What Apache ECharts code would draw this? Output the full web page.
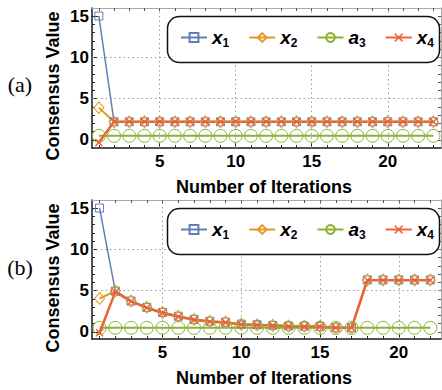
<!DOCTYPE html>
<html><head><meta charset="utf-8">
<script src="https://cdn.jsdelivr.net/npm/echarts@6/dist/echarts.min.js"></script>
<style>html,body{margin:0;padding:0;background:#fff}#c{width:442px;height:390px}</style>
</head><body><div id="c"></div>
<script>
// ---------- data ----------
const seriesNames = ['x1', 'x2', 'a3', 'x4'];
const iterA = [1,2,3,4,5,6,7,8,9,10,11,12,13,14,15,16,17,18,19,20,21,22,23];
const x1A = [15,2.2,2.2,2.2,2.2,2.2,2.2,2.2,2.2,2.2,2.2,2.2,2.2,2.2,2.2,2.2,2.2,2.2,2.2,2.2,2.2,2.2,2.2];
const x2A = [3.9,2.2,2.2,2.2,2.2,2.2,2.2,2.2,2.2,2.2,2.2,2.2,2.2,2.2,2.2,2.2,2.2,2.2,2.2,2.2,2.2,2.2,2.2];
const a3A = [0.5,0.5,0.5,0.5,0.5,0.5,0.5,0.5,0.5,0.5,0.5,0.5,0.5,0.5,0.5,0.5,0.5,0.5,0.5,0.5,0.5,0.5,0.5];
const x4A = [-0.3,2.2,2.2,2.2,2.2,2.2,2.2,2.2,2.2,2.2,2.2,2.2,2.2,2.2,2.2,2.2,2.2,2.2,2.2,2.2,2.2,2.2,2.2];

const iterB = [1,2,3,4,5,6,7,8,9,10,11,12,13,14,15,16,17,18,19,20,21,22];
const x1B = [15,4.95,3.75,2.98,2.37,1.9,1.52,1.3,1.2,0.95,0.88,0.8,0.72,0.7,0.65,0.52,0.52,6.3,6.3,6.3,6.3,6.3];
const x2B = [4.05,4.95,3.75,2.98,2.37,1.9,1.52,1.3,1.2,0.95,0.88,0.8,0.72,0.7,0.65,0.52,0.52,6.3,6.3,6.3,6.3,6.3];
const a3B = [0.5,0.5,0.5,0.5,0.5,0.5,0.5,0.5,0.5,0.5,0.5,0.5,0.5,0.5,0.5,0.5,0.5,0.5,0.5,0.5,0.5,0.5];
const x4B = [-0.1,4.85,3.7,2.92,2.3,1.85,1.48,1.25,1.15,0.9,0.85,0.78,0.7,0.67,0.62,0.5,0.5,6.25,6.25,6.25,6.25,6.25];

const xMajorTicks = [5, 10, 15, 20];
const yMajorTicks = [0, 5, 10, 15];
const yMinorTicks = [0,1,2,3,4,5,6,7,8,9,10,11,12,13,14,15];
const xGridLines = [5, 10, 15, 20];
const yGridLines = [5, 10];
const panelLabels = ['(a)', '(b)'];
const xTitle = 'Number of Iterations';
const yTitle = 'Consensus Value';

// ---------- styling ----------
const font = '"Liberation Sans", Arial, sans-serif';
const colors = { x1: '#5E81B5', x2: '#E19C24', a3: '#8FB032', x4: '#EB6235' };
const crossPath = 'path://M0,1.2L1.2,0L5,3.8L8.8,0L10,1.2L6.2,5L10,8.8L8.8,10L5,6.2L1.2,10L0,8.8L3.8,5Z';
const symbolCfg = {
  x1: { symbol: 'rect', symbolSize: 8, lw: 1.5, hollow: true },
  x2: { symbol: 'diamond', symbolSize: [10, 12], lw: 2, hollow: true },
  a3: { symbol: 'circle', symbolSize: 13, lw: 2, hollow: true },
  x4: { symbol: crossPath, symbolSize: 8, lw: 2.5, hollow: false }
};

const panels = [
  { top: 8, height: 140, xMin: 0.55, xMax: 23.5, yMin: -0.97, yMax: 15.97, iters: iterA,
    vals: { x1: x1A, x2: x2A, a3: a3A, x4: x4A } },
  { top: 200, height: 139, xMin: 0.52, xMax: 22.68, yMin: -0.85, yMax: 15.97, iters: iterB,
    vals: { x1: x1B, x2: x2B, a3: a3B, x4: x4B } }
];

const grid = [], xAxis = [], yAxis = [], series = [], legend = [], graphic = [];
const tickCol = '#2a2a2a';

panels.forEach((p, gi) => {
  grid.push({ left: 92, top: p.top, width: 349, height: p.height });
  const xMinor = p.iters.slice();
  const base = { gridIndex: gi, type: 'value', min: p.xMin, max: p.xMax, splitLine: { show: false } };
  xAxis.push(Object.assign({}, base, { position: 'bottom',
    axisLine: { onZero: false, lineStyle: { color: '#1a1a1a', width: 1.5 } },
    axisTick: { inside: true, length: 3, customValues: xMinor, lineStyle: { color: tickCol } },
    axisLabel: { show: false } }));
  xAxis.push(Object.assign({}, base, { position: 'bottom',
    axisLine: { show: false, onZero: false },
    axisTick: { inside: true, length: 6, customValues: xMajorTicks, lineStyle: { color: tickCol } },
    axisLabel: { customValues: xMajorTicks, fontSize: 17, fontWeight: 'bold', color: '#000', fontFamily: font, margin: 5 } }));
  xAxis.push(Object.assign({}, base, { position: 'top',
    axisLine: { onZero: false, lineStyle: { color: '#aaa', width: 1 } },
    axisTick: { inside: true, length: 3, customValues: xMinor, lineStyle: { color: '#555' } },
    axisLabel: { show: false } }));

  const ybase = { gridIndex: gi, type: 'value', min: p.yMin, max: p.yMax, splitLine: { show: false } };
  yAxis.push(Object.assign({}, ybase, { position: 'left',
    axisLine: { onZero: false, lineStyle: { color: '#1a1a1a', width: 1.5 } },
    axisTick: { inside: true, length: 3, customValues: yMinorTicks, lineStyle: { color: tickCol } },
    axisLabel: { show: false } }));
  yAxis.push(Object.assign({}, ybase, { position: 'left',
    axisLine: { show: false, onZero: false },
    axisTick: { inside: true, length: 6, customValues: yMajorTicks, lineStyle: { color: tickCol } },
    axisLabel: { customValues: yMajorTicks, fontSize: 17, fontWeight: 'bold', color: '#000', fontFamily: font, margin: 3 } }));
  yAxis.push(Object.assign({}, ybase, { position: 'right',
    axisLine: { onZero: false, lineStyle: { color: '#aaa', width: 1 } },
    axisTick: { inside: true, length: 3, customValues: yMinorTicks, lineStyle: { color: '#555' } },
    axisLabel: { show: false } }));

  const xi = gi * 3, yi = gi * 3;
  // grid lines (dotted) through markLine on a hidden carrier series
  series.push({
    type: 'line', name: 'grid' + gi, xAxisIndex: xi, yAxisIndex: yi, z: 1,
    data: p.iters.map((x, i) => [x, p.vals.a3[i]]),
    showSymbol: false, symbol: 'none', silent: true, lineStyle: { opacity: 0, width: 0 },
    markLine: { silent: true, symbol: 'none', z: 1, label: { show: false },
      lineStyle: { color: '#9a9a9a', type: [1.5, 3], width: 1 },
      data: xGridLines.map(v => ({ xAxis: v })).concat(yGridLines.map(v => ({ yAxis: v }))) }
  });
  seriesNames.forEach((nm) => {
    const c = symbolCfg[nm];
    series.push({
      type: 'line', name: nm, xAxisIndex: xi, yAxisIndex: yi, z: 2,
      data: p.iters.map((x, i) => [x, p.vals[nm][i]]),
      symbol: c.symbol, symbolSize: c.symbolSize, showAllSymbol: true,
      lineStyle: { color: colors[nm], width: c.lw },
      itemStyle: c.hollow ? { color: 'rgba(255,255,255,0)', borderColor: colors[nm], borderWidth: 1 }
                          : { color: colors[nm], borderWidth: 0 },
      emphasis: { disabled: true }
    });
  });

  const boxTop = p.top + 8;
  graphic.push({ type: 'rect', z: 3, shape: { x: 167.5, y: boxTop + 0.5, width: 272, height: 46, r: 12 },
    style: { fill: '#fff', stroke: '#111', lineWidth: 1.5 } });
  legend.push({
    data: seriesNames, left: 180, top: boxTop + 12, orient: 'horizontal', z: 4,
    itemWidth: 26, itemHeight: 11, itemGap: 19, padding: 0, selectedMode: false,
    formatter: (name) => '{v|' + name.charAt(0) + '}{s|' + name.slice(1) + '}',
    textStyle: { color: '#000', rich: {
      v: { fontFamily: font, fontStyle: 'italic', fontWeight: 'bold', fontSize: 19, lineHeight: 22, color: '#000' },
      s: { fontFamily: font, fontWeight: 'bold', fontSize: 12, lineHeight: 12, verticalAlign: 'bottom', color: '#000' }
    } }
  });

  graphic.push({ type: 'text', z: 5, style: { text: xTitle, x: 264, y: p.top + p.height + 39, font: 'bold 18px ' + font,
    fill: '#000', textAlign: 'center', textVerticalAlign: 'middle' } });
  graphic.push({ type: 'text', z: 5, rotation: Math.PI / 2, x: 53, y: p.top + 78,
    style: { text: yTitle, x: 0, y: 0, font: 'bold 18px ' + font, fill: '#000', textAlign: 'center', textVerticalAlign: 'middle' } });
  graphic.push({ type: 'text', z: 5, style: { text: panelLabels[gi], x: 20, y: gi === 0 ? 84 : 267,
    font: '22px "Liberation Serif", "Times New Roman", serif', fill: '#000', textAlign: 'center', textVerticalAlign: 'middle' } });
});

const chart = echarts.init(document.getElementById('c'), null, { renderer: 'svg' });
chart.setOption({
  animation: false, backgroundColor: '#fff',
  grid, xAxis, yAxis, series, legend, graphic
});
</script>
</body></html>
